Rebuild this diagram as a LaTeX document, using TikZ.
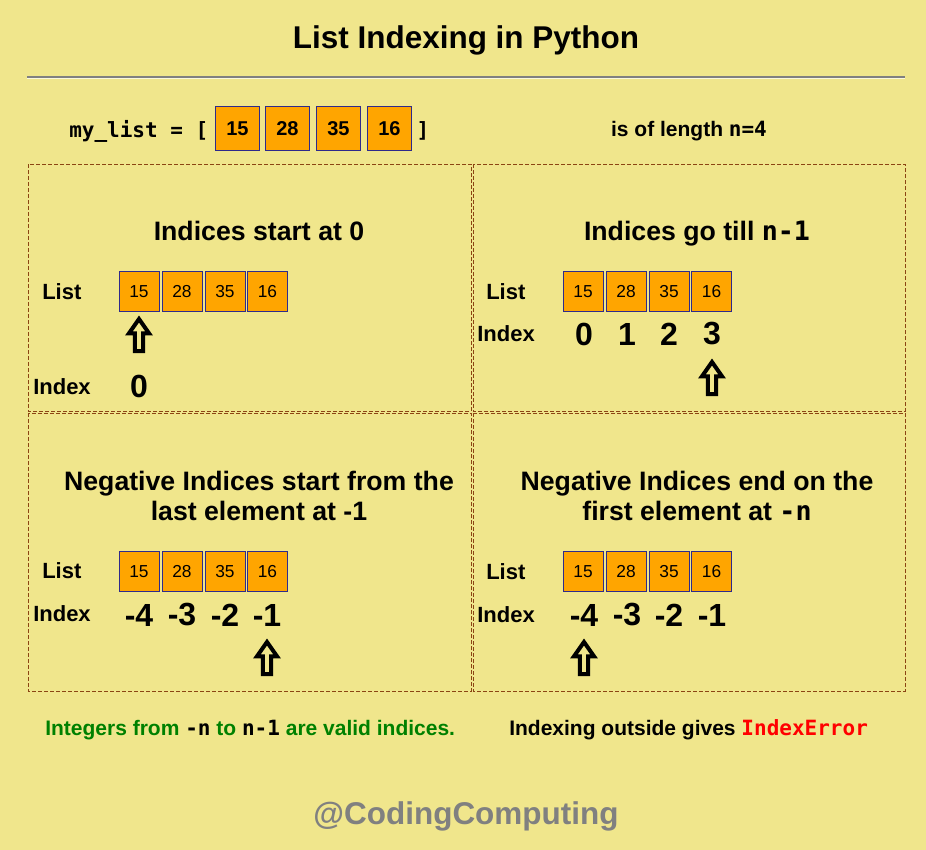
\documentclass[tikz,border=0pt]{standalone}
\usepackage{fontspec}
\setmainfont{Liberation Sans}
\setmonofont{DejaVu Sans Mono}
\usetikzlibrary{shapes.arrows}

\definecolor{khaki}{HTML}{F0E68C}
\definecolor{cellfill}{HTML}{FFA500}
\definecolor{cellline}{HTML}{2E2A8C}
\definecolor{panelline}{HTML}{8B4513}
\definecolor{okgreen}{HTML}{008000}
\definecolor{errred}{HTML}{FF0000}
\definecolor{credit}{HTML}{808080}

\tikzset{
  cell/.style = {draw = cellline, fill = cellfill, minimum size = 30pt, inner sep = 0pt,
                 font = \fontsize{13}{13}\selectfont},
  bigcell/.style = {cell, minimum size = 33pt, font = \fontsize{15}{15}\selectfont\bfseries},
  tag/.style = {anchor = west, inner sep = 0pt, font = \fontsize{16.5}{16.5}\selectfont\bfseries},
  idx/.style = {inner sep = 0pt, font = \fontsize{24}{24}\selectfont\bfseries},
  head/.style = {align = center, inner sep = 0pt, font = \fontsize{20}{22.5}\selectfont\bfseries},
  foot/.style = {inner sep = 0pt, font = \fontsize{15.75}{15.75}\selectfont\bfseries},
  panel/.style = {draw = panelline, dash pattern = on 3pt off 1.5pt, line width = 0.75pt},
  uparr/.style = {single arrow, draw, line width = 3pt, fill = khaki, shape border rotate = 90,
                  minimum height = 24pt, minimum width = 12pt, inner sep = 1.65pt,
                  single arrow head extend = 4.4pt, single arrow tip angle = 70}
}

\begin{document}
\begin{tikzpicture}[x = 0.75pt, y = -0.75pt]
    \fill [khaki] (0, 0) rectangle (926, 850);
    \useasboundingbox (0, 0) rectangle (926, 850);

    % title and rule
    \node [font = \fontsize{23.6}{23.6}\selectfont\bfseries] (title) at (466, 40) {List Indexing in Python};
    \draw [gray, line width = 0.9pt] (27, 77) -- (905, 77);
    \draw [white!70!khaki, line width = 0.75pt] (27, 78.5) -- (905, 78.5);

    % the list itself
    \node [anchor = west, inner sep = 0pt, font = \fontsize{15.75}{15.75}\selectfont\ttfamily\bfseries] (decl) at (69, 131) {my\_list = [};
    \node [bigcell] (top15) at (237.5, 128.5) {15};
    \node [bigcell] (top28) at (287.5, 128.5) {28};
    \node [bigcell] (top35) at (338.5, 128.5) {35};
    \node [bigcell] (top16) at (389.5, 128.5) {16};
    \node [inner sep = 0pt, font = \fontsize{15.75}{15.75}\selectfont\ttfamily\bfseries] (close) at (423, 131) {]};
    \node [foot] (length) at (689, 131) {is of length \texttt{n=4}};

    % panels
    \draw [panel] (28, 164) rectangle (471, 411);
    \draw [panel] (473, 164) rectangle (905, 411);
    \draw [panel] (28, 413) rectangle (471, 691);
    \draw [panel] (473, 413) rectangle (905, 691);

    % panel 1
    \node [head] (headA) at (259, 231) {Indices start at 0};
    \node [tag] (listA) at (42, 292) {List};
    \node [cell] (a15) at (139, 291.5) {15};
    \node [cell] (a28) at (182, 291.5) {28};
    \node [cell] (a35) at (225, 291.5) {35};
    \node [cell] (a16) at (267.5, 291.5) {16};
    \node [uparr] (arrA) at (139, 338) {};
    \node [tag] (indexA) at (33, 387) {Index};
    \node [idx] (a0) at (139, 386) {0};

    % panel 2
    \node [head] (headB) at (697, 234) {Indices go till \texttt{n-1}};
    \node [tag] (listB) at (486, 292) {List};
    \node [cell] (b15) at (583, 291.5) {15};
    \node [cell] (b28) at (626, 291.5) {28};
    \node [cell] (b35) at (669, 291.5) {35};
    \node [cell] (b16) at (711.5, 291.5) {16};
    \node [tag] (indexB) at (477, 334) {Index};
    \node [idx] (b0) at (584, 334) {0};
    \node [idx] (b1) at (627, 334) {1};
    \node [idx] (b2) at (669, 334) {2};
    \node [idx] (b3) at (712, 334) {3};
    \node [uparr] (arrB) at (712, 381) {};

    % panel 3
    \node [head] (headC) at (259, 496) {Negative Indices start from the\\last element at -1};
    \node [tag] (listC) at (42, 571) {List};
    \node [cell] (c15) at (139, 571.5) {15};
    \node [cell] (c28) at (182, 571.5) {28};
    \node [cell] (c35) at (225, 571.5) {35};
    \node [cell] (c16) at (267.5, 571.5) {16};
    \node [tag] (indexC) at (33, 614) {Index};
    \node [idx] (cm4) at (139, 615) {-4};
    \node [idx] (cm3) at (182, 615) {-3};
    \node [idx] (cm2) at (225, 615) {-2};
    \node [idx] (cm1) at (267, 615) {-1};
    \node [uparr] (arrC) at (267, 661) {};

    % panel 4
    \node [head] (headD) at (697, 496) {Negative Indices end on the\\first element at \texttt{-n}};
    \node [tag] (listD) at (486, 572) {List};
    \node [cell] (d15) at (583, 571.5) {15};
    \node [cell] (d28) at (626, 571.5) {28};
    \node [cell] (d35) at (669, 571.5) {35};
    \node [cell] (d16) at (711.5, 571.5) {16};
    \node [tag] (indexD) at (477, 615) {Index};
    \node [idx] (dm4) at (584, 615) {-4};
    \node [idx] (dm3) at (627, 615) {-3};
    \node [idx] (dm2) at (669, 615) {-2};
    \node [idx] (dm1) at (712, 615) {-1};
    \node [uparr] (arrD) at (584, 661) {};

    % footer
    \node [foot, anchor = west, text = okgreen] (valid) at (45, 730)
      {Integers from \textcolor{black}{\texttt{-n}} to \textcolor{black}{\texttt{n-1}} are valid indices.};
    \node [foot, anchor = west] (outside) at (509, 730) {Indexing outside gives \textcolor{errred}{\texttt{IndexError}}};
    \node [text = credit, font = \fontsize{23.6}{23.6}\selectfont\bfseries] (handle) at (466, 816) {@CodingComputing};
  \end{tikzpicture}
\end{document}
